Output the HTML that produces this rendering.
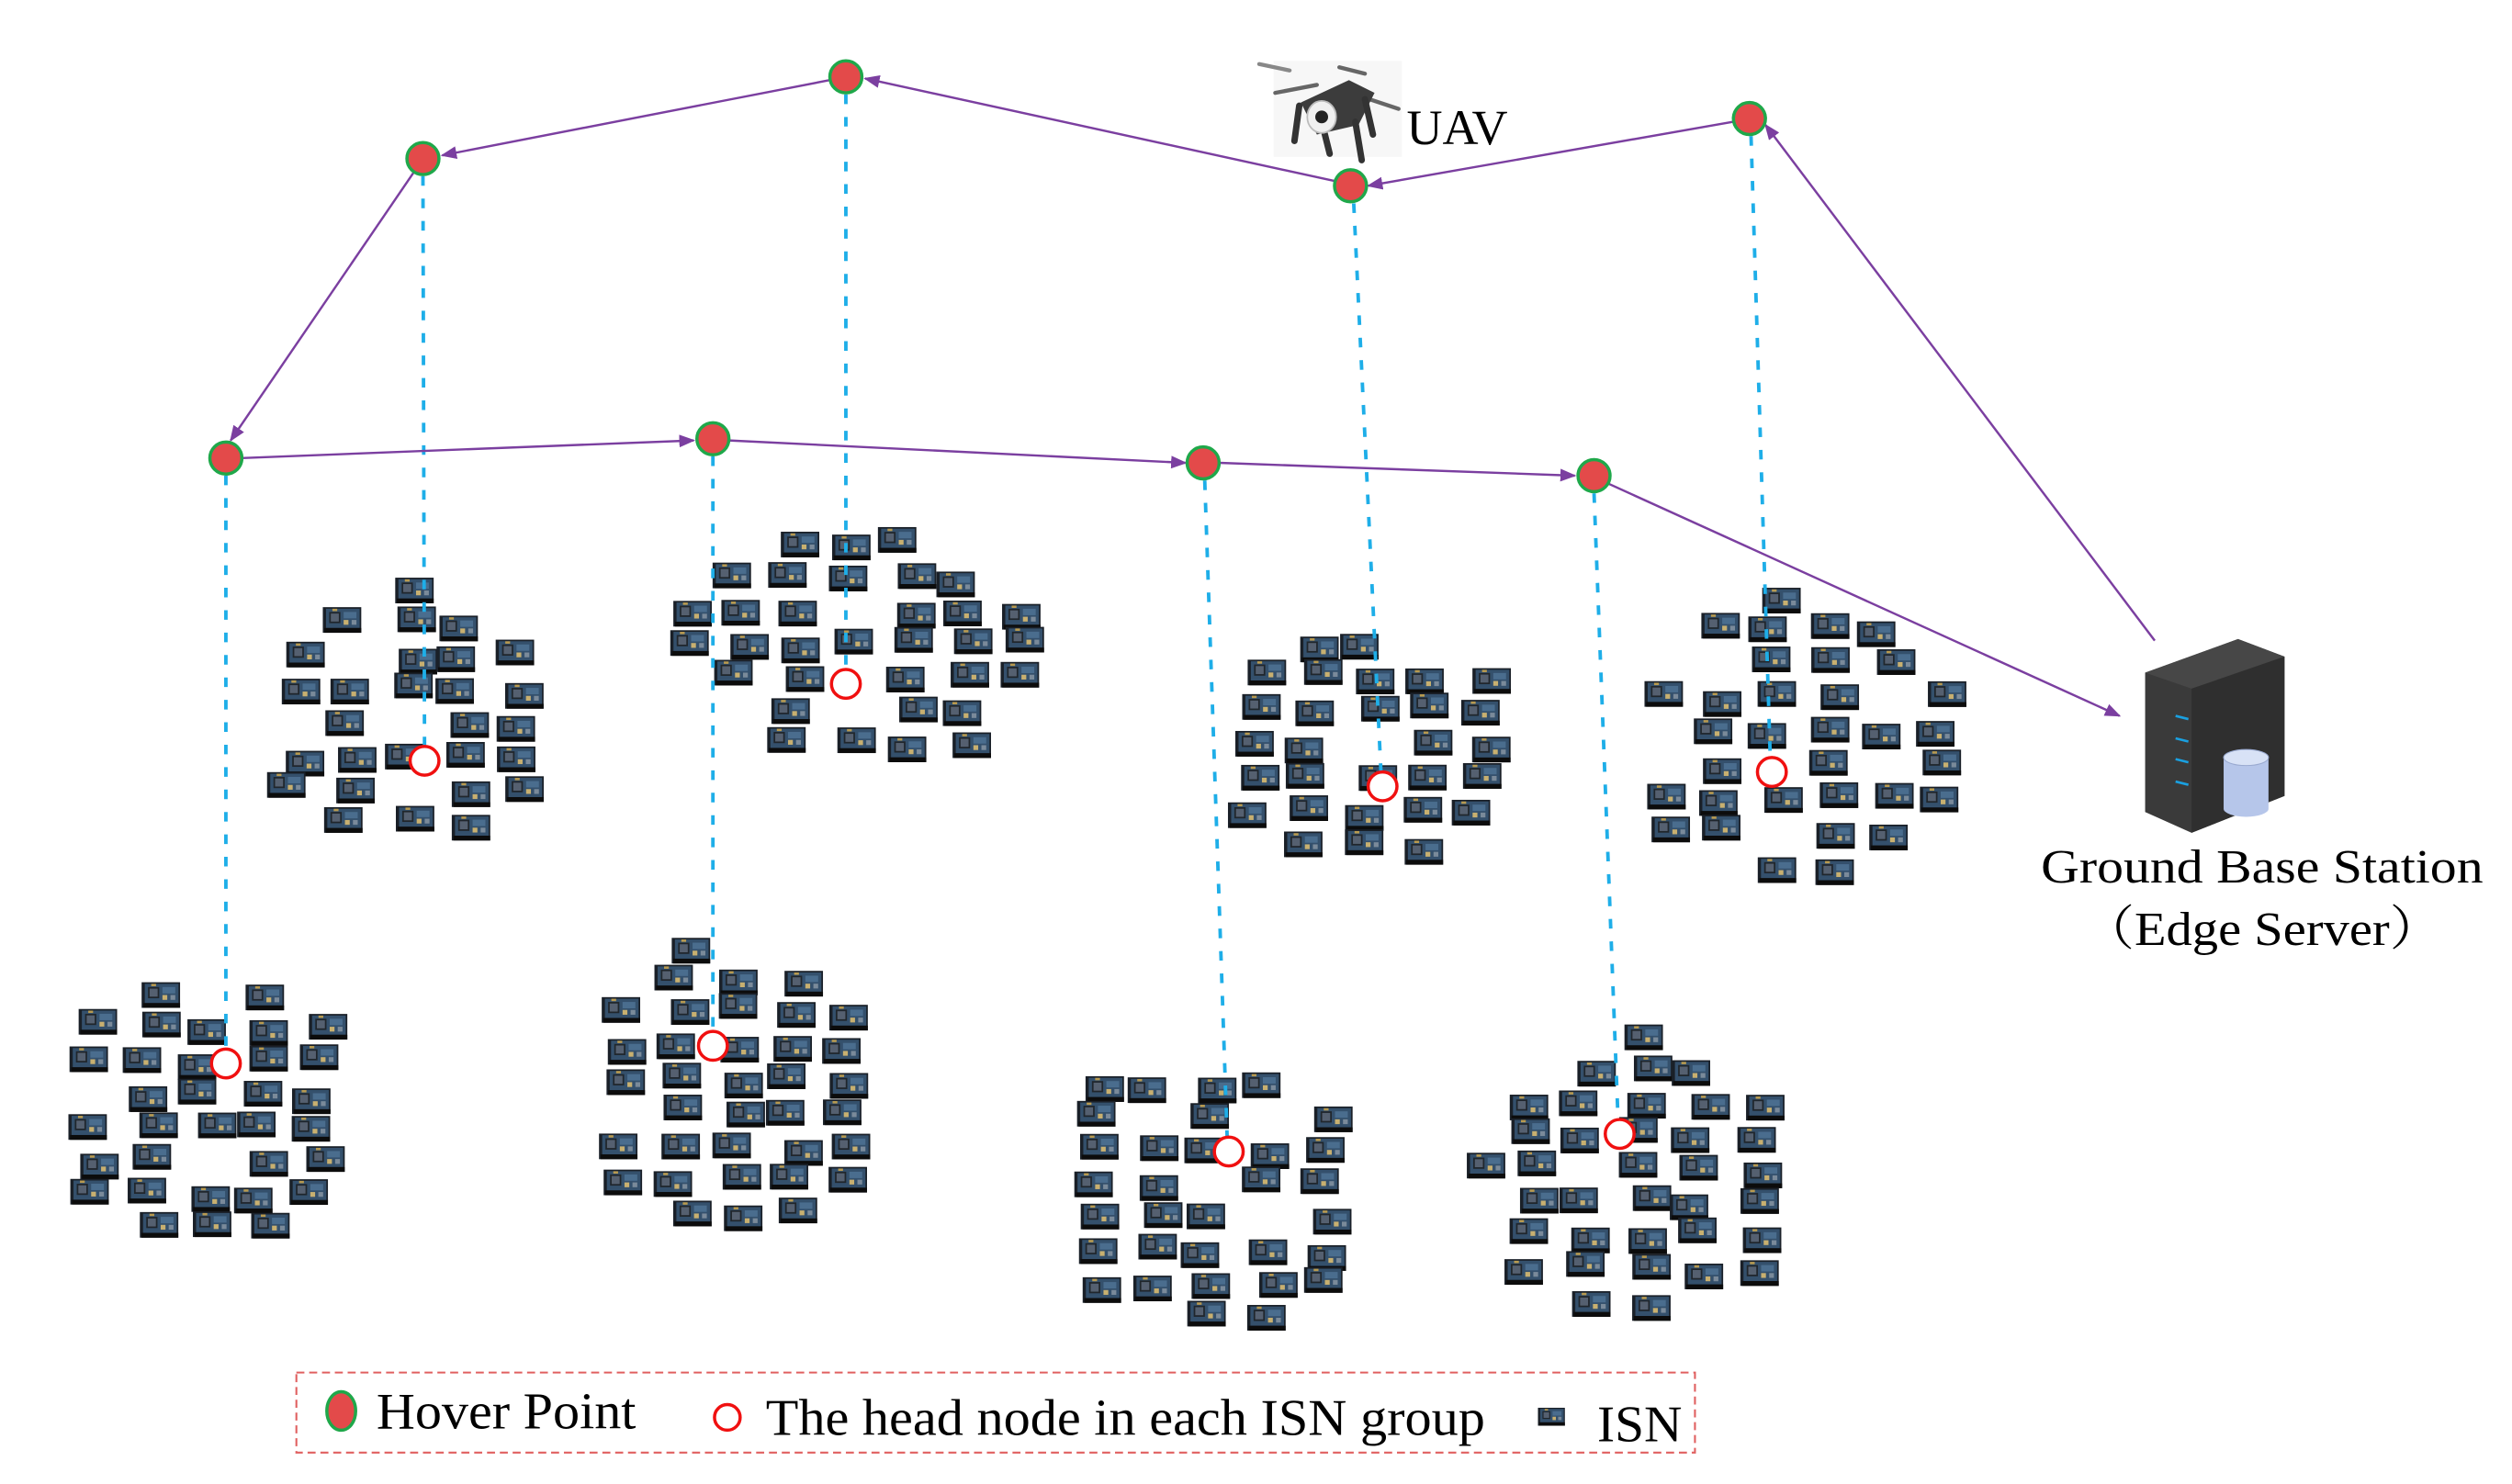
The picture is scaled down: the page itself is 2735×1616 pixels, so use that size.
<!DOCTYPE html>
<html><head><meta charset="utf-8"><style>
html,body{margin:0;padding:0;background:#fff;}
svg{display:block;}
</style></head><body>
<svg id="s" xmlns="http://www.w3.org/2000/svg" width="2735" height="1616" viewBox="0 0 1568 926.6" preserveAspectRatio="none" font-family="'Liberation Serif', 'DejaVu Serif', serif">
<defs>
<marker id="ar" markerWidth="10" markerHeight="8" refX="9" refY="4" orient="auto" markerUnits="userSpaceOnUse">
<path d="M0,0 L10,4 L0,8 z" fill="#7b3fa0"/>
</marker>
<g id="isn">
<rect x="0" y="0" width="24" height="16" fill="#1a2028"/>
<rect x="2" y="1" width="21" height="12" fill="#34506c"/>
<rect x="4" y="3" width="7" height="7" fill="#20262c"/>
<rect x="5" y="4" width="5" height="5" fill="#556070"/>
<rect x="13" y="3" width="8" height="4" fill="#4a6d8e"/>
<rect x="13" y="8" width="3" height="3" fill="#c8b070"/>
<rect x="18" y="8" width="3" height="3" fill="#7a8a9a"/>
<rect x="1" y="13" width="23" height="3" fill="#0c0c0c"/>
<rect x="6" y="1" width="3" height="1.5" fill="#b89a50"/>
</g>
</defs>
<g id="clusters"></g>

<g stroke="#1eaee8" stroke-width="2.2" stroke-dasharray="6,8" fill="none">
<line x1="264" y1="110" x2="265" y2="466"/>
<line x1="528" y1="59" x2="528" y2="418"/>
<line x1="845" y1="127" x2="862" y2="482"/>
<line x1="1093" y1="85" x2="1105" y2="473"/>
<line x1="141" y1="297" x2="141" y2="655"/>
<line x1="445" y1="285" x2="445" y2="644"/>
<line x1="752" y1="300" x2="766" y2="710"/>
<line x1="995" y1="308" x2="1010" y2="699"/>
</g>

<g stroke="#7b3fa0" stroke-width="1.4" fill="none" marker-end="url(#ar)">
<line x1="1345" y1="400" x2="1102" y2="78"/>
<line x1="1082" y1="76" x2="854" y2="116"/>
<line x1="833" y1="113" x2="540" y2="49"/>
<line x1="518" y1="50" x2="276" y2="97"/>
<line x1="258" y1="108" x2="144" y2="275"/>
<line x1="151" y1="286" x2="433" y2="275"/>
<line x1="455" y1="275" x2="740" y2="289"/>
<line x1="761" y1="289" x2="983" y2="297"/>
<line x1="1004" y1="302" x2="1323" y2="447"/>
</g>

<g fill="#e34a4a" stroke="#1fa84a" stroke-width="2">
<ellipse cx="528" cy="48" rx="10" ry="10"/>
<ellipse cx="264" cy="99" rx="10" ry="10"/>
<ellipse cx="141" cy="286" rx="10" ry="10"/>
<ellipse cx="445" cy="274" rx="10" ry="10"/>
<ellipse cx="751" cy="289" rx="10" ry="10"/>
<ellipse cx="995" cy="297" rx="10" ry="10"/>
<ellipse cx="843" cy="116" rx="10" ry="10"/>
<ellipse cx="1092" cy="74" rx="10" ry="10"/>
</g>

<g fill="#fff" stroke="#f01010" stroke-width="2">
<circle cx="265" cy="475" r="9"/>
<circle cx="528" cy="427" r="9"/>
<circle cx="863" cy="491" r="9"/>
<circle cx="1106" cy="482" r="9"/>
<circle cx="141" cy="664" r="9"/>
<circle cx="445" cy="653" r="9"/>
<circle cx="767" cy="719" r="9"/>
<circle cx="1011" cy="708" r="9"/>
</g>

<!-- UAV -->
<g>
<rect x="795" y="38" width="80" height="60" fill="#f7f7f7"/>
<g stroke="#666" stroke-width="2.5" fill="none" stroke-linecap="round">
<line x1="796" y1="58" x2="822" y2="53"/>
<line x1="836" y1="42" x2="852" y2="46"/>
<line x1="852" y1="61" x2="873" y2="68"/>
<line x1="786" y1="40" x2="805" y2="44" stroke="#888"/>
</g>
<path d="M812,64 L842,50 L858,58 L848,78 L822,84 Z" fill="#3c3c3c"/>
<g stroke="#333" stroke-width="4" fill="none" stroke-linecap="round">
<line x1="811" y1="66" x2="808" y2="88"/>
<line x1="846" y1="76" x2="850" y2="100"/>
<line x1="852" y1="62" x2="857" y2="84"/>
<line x1="826" y1="80" x2="830" y2="96"/>
</g>
<ellipse cx="825" cy="73" rx="9" ry="10" fill="#f0f0f0" stroke="#bbb"/>
<circle cx="825" cy="73" r="4" fill="#222"/>
</g>
<text x="878" y="90" font-size="31" font-family="'Liberation Serif', serif">UAV</text>

<!-- Server -->
<g>
<polygon points="1339,420 1397,399 1426,410 1426,497 1368,520 1339,507" fill="#3a3a3a"/>
<polygon points="1339,420 1397,399 1426,410 1368,430" fill="#474747"/>
<polygon points="1368,430 1426,410 1426,497 1368,520" fill="#2f2f2f"/>
<g stroke="#1aa0e0" stroke-width="1.5">
<line x1="1358" y1="447" x2="1366" y2="449"/><line x1="1358" y1="461" x2="1366" y2="463"/>
<line x1="1358" y1="474" x2="1366" y2="476"/><line x1="1358" y1="488" x2="1366" y2="490"/>
</g>
<path d="M1388,473 L1388,505 A14,5 0 0 0 1416,505 L1416,473 Z" fill="#b6c6ea"/>
<ellipse cx="1402" cy="473" rx="14" ry="5" fill="#d8e2f6" stroke="#9aaad0" stroke-width="0.6"/>
</g>
<text x="1274" y="551" font-size="30" font-family="'Liberation Serif', serif" textLength="276" lengthAdjust="spacingAndGlyphs">Ground Base Station</text>
<text x="1300" y="590" font-size="30" font-family="'Liberation Serif', 'Noto Serif CJK SC', serif" textLength="224" lengthAdjust="spacingAndGlyphs">（Edge Server）</text>

<!-- Legend -->
<rect x="185" y="857" width="873" height="50" fill="none" stroke="#e06060" stroke-width="1.2" stroke-dasharray="5,3"/>
<ellipse cx="213" cy="881" rx="9" ry="12" fill="#e34a4a" stroke="#1fa84a" stroke-width="2"/>
<text x="235" y="892" font-size="32" font-family="'Liberation Serif', serif" textLength="162" lengthAdjust="spacingAndGlyphs">Hover Point</text>
<circle cx="454" cy="885" r="8" fill="#fff" stroke="#f01010" stroke-width="2"/>
<text x="478" y="896" font-size="32" font-family="'Liberation Serif', serif" textLength="449" lengthAdjust="spacingAndGlyphs">The head node in each ISN group</text>
<g transform="translate(960,879) scale(0.7)"><use href="#isn"/></g>
<text x="997" y="900" font-size="32" font-family="'Liberation Serif', serif" textLength="53" lengthAdjust="spacingAndGlyphs">ISN</text>
</svg>
<script>
(function(){
var seed=12345;function r(){seed=(seed*16807)%2147483647;return (seed-1)/2147483646;}
var C=[[250,450,100,82],[535,403,108,84],[850,465,100,84],[1112,463,110,90],[128,692,104,92],[455,682,98,92],[755,742,104,86],[1025,738,104,92]];
var g=document.getElementById('clusters'),ns='http://www.w3.org/2000/svg';
C.forEach(function(c){
 var pts=[];
 for(var gy=-c[3];gy<=c[3];gy+=21){
  for(var gx=-c[2];gx<=c[2];gx+=35){
   var x=gx+(r()-0.5)*14,y=gy+(r()-0.5)*8;
   var d=(x*x)/(c[2]*c[2])+(y*y)/(c[3]*c[3]);
   if(d>1)continue; if(r()<0.1)continue;
   pts.push([c[0]+x-12,c[1]+y-8]);
  }
 }
 pts.forEach(function(p){var u=document.createElementNS(ns,'use');u.setAttribute('href','#isn');u.setAttribute('x',p[0].toFixed(1));u.setAttribute('y',p[1].toFixed(1));g.appendChild(u);});
});
})();
</script>
</body></html>
